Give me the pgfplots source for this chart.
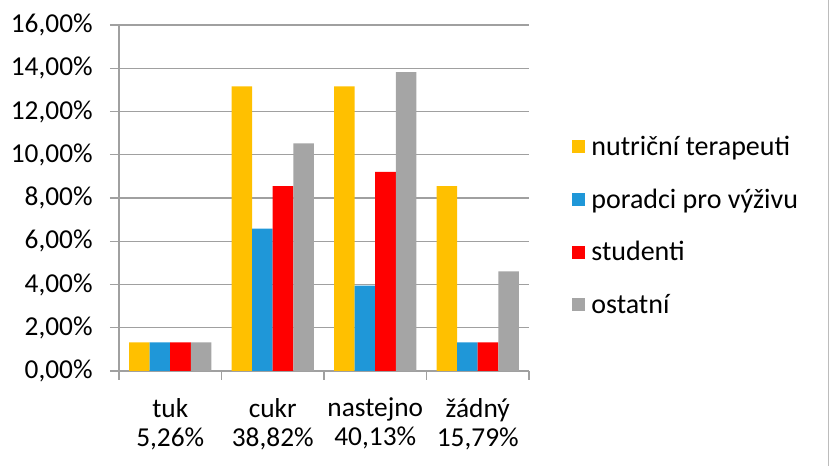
\documentclass[border=0pt]{standalone}
\usepackage{pgfplots}
\pgfplotsset{compat=1.18}
\usepackage{fontspec}
\setmainfont{Carlito}
\definecolor{cyel}{HTML}{FFC000}
\definecolor{cblu}{HTML}{1F97D8}
\definecolor{cred}{HTML}{FF0000}
\definecolor{cgry}{HTML}{A5A5A5}
\definecolor{cax}{HTML}{A0A0A0}
\begin{document}
\begin{tikzpicture}
\path[use as bounding box] (-89.25pt,-71.25pt) rectangle (532.5pt,278.25pt);
\begin{axis}[
  scale only axis,
  width=307.5pt, height=259.5pt,
  ybar=0pt, bar width=15.4pt,
  xmin=-0.5, xmax=3.5, ymin=0, ymax=16,
  axis x line*=bottom, axis y line*=left,
  axis line style={cax, line width=0.9pt},
  ytick={0,2,...,16},
  yticklabels={{0,00\%},{2,00\%},{4,00\%},{6,00\%},{8,00\%},{10,00\%},{12,00\%},{14,00\%},{16,00\%}},
  ymajorgrids,
  grid style={cax, line width=0.9pt},
  xtick={0,1,2,3},
  xticklabels={{tuk\\5,26\%},{cukr\\38,82\%},{nastejno\\40,13\%},{žádný\\15,79\%}},
  minor xtick={-0.5,0.5,1.5,2.5,3.5},
  tick align=outside,
  major tick length=6.75pt, minor tick length=6.75pt,
  y tick style={cax, line width=0.9pt},
  x tick style={draw=none},
  minor x tick style={draw=cax, line width=0.9pt},
  tick label style={font=\fontsize{20.5}{21.75}\selectfont},
  x tick label style={align=center, yshift=-10pt},
  y tick label style={xshift=-9.5pt},
  legend style={draw=none, fill=none, at={(1.105,0.42)}, anchor=west, inner sep=0pt,
    font=\fontsize{21}{24}\selectfont, row sep=19.5pt, cells={anchor=west}},
  legend cell align=left,
  legend image code/.code={\fill[#1] (0pt,-4.9pt) rectangle (9.8pt,4.9pt);},
  legend style={nodes={inner xsep=4.5pt}},
]
\addplot[fill=cyel, draw=none] coordinates {(0,1.32) (1,13.16) (2,13.16) (3,8.55)};
\addplot[fill=cblu, draw=none] coordinates {(0,1.32) (1,6.58) (2,3.95) (3,1.32)};
\addplot[fill=cred, draw=none] coordinates {(0,1.32) (1,8.55) (2,9.21) (3,1.32)};
\addplot[fill=cgry, draw=none] coordinates {(0,1.32) (1,10.53) (2,13.82) (3,4.61)};
\legend{nutriční terapeuti, poradci pro výživu, studenti, ostatní}
\end{axis}
\draw[cax!70, line width=1pt] (531.9pt,-71.25pt) -- (531.9pt,278.25pt);
\end{tikzpicture}
\end{document}
